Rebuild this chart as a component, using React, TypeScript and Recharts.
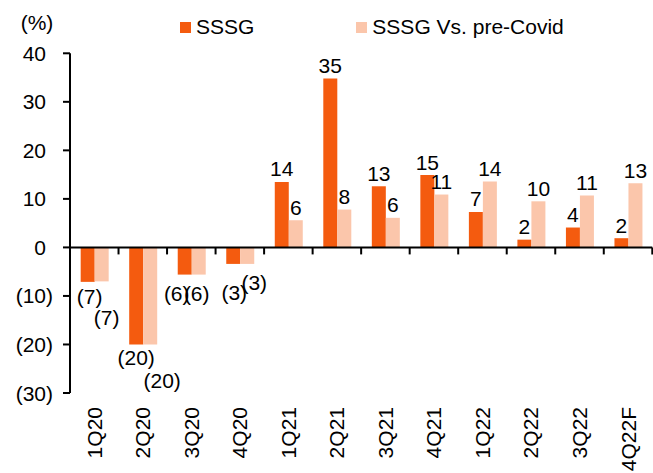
import {
  BarChart,
  Bar,
  XAxis,
  YAxis,
  Legend,
  LabelList,
  ReferenceLine,
} from "recharts";

const quarters = [
  "1Q20", "2Q20", "3Q20", "4Q20", "1Q21", "2Q21",
  "3Q21", "4Q21", "1Q22", "2Q22", "3Q22", "4Q22F",
];
const sssg = [-7.1, -20, -5.6, -3.4, 13.5, 34.8, 12.6, 14.9, 7.3, 1.6, 4.1, 1.9];
const sssgVsPreCovid = [-7, -20, -5.6, -3.4, 5.6, 7.8, 6.1, 10.9, 13.6, 9.5, 10.7, 13.2];
const yTicks = [-30, -20, -10, 0, 10, 20, 30, 40];

const data = quarters.map((q, i) => ({
  q,
  sssg: sssg[i],
  pre: sssgVsPreCovid[i],
}));

const FONT = "'Liberation Sans', Arial, sans-serif";
const FS = 21;
const ORANGE = "#F45B0F";
const PEACH = "#FBC6AB";

// hand nudges for the negative labels (Excel-style moved labels)
const negNudge: Record<string, Record<number, [number, number]>> = {
  sssg: { 0: [2, 15], 1: [0, 13], 2: [-8, 19], 3: [1, 29] },
  pre: { 0: [5, 36], 1: [12, 36], 2: [-2, 19], 3: [7, 19] },
};

const fmt = (v: number) => {
  const r = Math.round(Math.abs(v));
  return v < 0 ? `(${r})` : `${r}`;
};

const makeLabel = (key: string) => (props: any) => {
  const { x, y, width, height, value, index } = props;
  const top = Math.min(y, y + height);
  const bottom = Math.max(y, y + height);
  const cx = x + width / 2;
  let lx = cx;
  let ly = top - 13;
  if (value < 0) {
    const [dx, dy] = negNudge[key][index] || [0, 15];
    lx = cx + dx;
    ly = bottom + dy;
  }
  return (
    <text
      x={lx}
      y={ly}
      textAnchor="middle"
      dominantBaseline="central"
      fontSize={FS}
      fontFamily={FONT}
      fill="#000"
    >
      {fmt(value)}
    </text>
  );
};

const YTick = (props: any) => {
  const { x, y, payload } = props;
  const v = payload.value;
  return (
    <text
      x={x}
      y={y}
      dx={v < 0 ? 0 : -7}
      textAnchor="end"
      dominantBaseline="central"
      fontSize={FS}
      fontFamily={FONT}
      fill="#000"
    >
      {v < 0 ? `(${Math.abs(v)})` : v}
    </text>
  );
};

const XTick = (props: any) => {
  const { x, y, payload } = props;
  return (
    <g transform={`translate(${x},${y})`}>
      <text
        transform="rotate(-90)"
        x={-14}
        y={0}
        textAnchor="end"
        dominantBaseline="central"
        fontSize={FS}
        fontFamily={FONT}
        fill="#000"
      >
        {payload.value}
      </text>
    </g>
  );
};

// zero line with tick marks at the category boundaries
const ZeroAxis = (props: any) => {
  const { x1, y1, x2 } = props;
  const n = quarters.length;
  const step = (x2 - x1) / n;
  return (
    <g>
      <line x1={x1} y1={y1} x2={x2} y2={y1} stroke="#000" strokeWidth={2} />
      {Array.from({ length: n + 1 }, (_, i) => (
        <line
          key={i}
          x1={x1 + step * i}
          y1={y1}
          x2={x1 + step * i}
          y2={y1 + 7}
          stroke="#000"
          strokeWidth={2}
        />
      ))}
    </g>
  );
};

const LegendContent = (props: any) => {
  const { payload = [] } = props;
  return (
    <div style={{ display: "flex", gap: 102, fontFamily: FONT, fontSize: FS }}>
      {payload.map((p: any) => (
        <div key={p.value} style={{ display: "flex", alignItems: "center" }}>
          <span
            style={{
              width: 11,
              height: 11,
              background: p.color,
              display: "inline-block",
              marginRight: 5,
            }}
          />
          <span style={{ color: "#000", lineHeight: "24px" }}>{p.value}</span>
        </div>
      ))}
    </div>
  );
};

export default function App() {
  return (
    <div style={{ position: "absolute", left: 0, top: 0, background: "#fff" }}>
      <BarChart
        width={653}
        height={473}
        data={data}
        margin={{ top: 53.3, right: 0.7, bottom: 0, left: 8 }}
        barCategoryGap="22%"
        barGap={0}
      >
        <XAxis
          dataKey="q"
          axisLine={false}
          tickLine={false}
          tickSize={0}
          tickMargin={0}
          height={80}
          interval={0}
          tick={<XTick />}
        />
        <YAxis
          domain={[-30, 40]}
          ticks={yTicks}
          interval={0}
          width={62}
          axisLine={{ stroke: "#000", strokeWidth: 2 }}
          tickLine={{ stroke: "#000", strokeWidth: 2 }}
          tickSize={7}
          tickMargin={10}
          tick={<YTick />}
          label={{
            value: "(%)",
            position: "top",
            offset: 23,
            fontSize: FS,
            fontFamily: FONT,
            fill: "#000",
            dx: -2,
          }}
        />
        <Legend
          layout="horizontal"
          verticalAlign="middle"
          align="center"
          wrapperStyle={{ top: 15, left: 180, width: "auto" }}
          content={<LegendContent />}
        />
        <Bar dataKey="sssg" name="SSSG" fill={ORANGE} isAnimationActive={false}>
          <LabelList dataKey="sssg" content={makeLabel("sssg")} />
        </Bar>
        <Bar
          dataKey="pre"
          name="SSSG Vs. pre-Covid"
          fill={PEACH}
          isAnimationActive={false}
        >
          <LabelList dataKey="pre" content={makeLabel("pre")} />
        </Bar>
        <ReferenceLine y={0} stroke="#000" shape={<ZeroAxis />} ifOverflow="visible" />
      </BarChart>
    </div>
  );
}
